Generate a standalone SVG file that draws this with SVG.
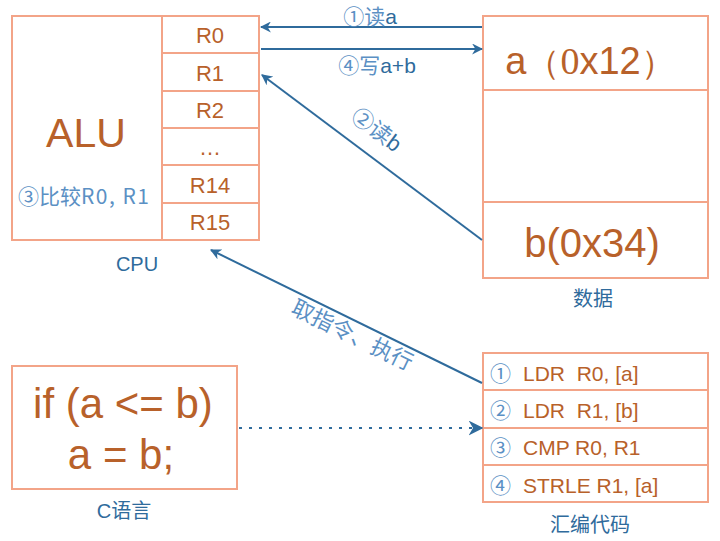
<svg xmlns="http://www.w3.org/2000/svg" width="720" height="541" viewBox="0 0 720 541">
<style>
.box{fill:none;stroke:#f3a488;stroke-width:2}
.br{fill:#b8612a;font-family:"Liberation Sans","Noto Sans CJK SC",sans-serif}
.bl{fill:#2f6b9c;font-family:"Liberation Sans","Noto Sans CJK SC",sans-serif}
.lb{fill:#5b90c4;font-family:"Noto Sans CJK SC","Liberation Serif",serif}
.ln{stroke:#2f6b9c;stroke-width:2;fill:none}
</style>
<defs>
<marker id="ah" viewBox="0 0 10 10" refX="9" refY="5" markerWidth="11" markerHeight="11" markerUnits="userSpaceOnUse" orient="auto">
<path d="M0,0 L10,5 L0,10 L3,5 Z" fill="#2f6b9c"/>
</marker>
<marker id="ah2" viewBox="0 0 10 10" refX="9" refY="5" markerWidth="15" markerHeight="15" markerUnits="userSpaceOnUse" orient="auto">
<path d="M0,0 L10,5 L0,10 L3,5 Z" fill="#2f6b9c"/>
</marker>
</defs>
<rect width="720" height="541" fill="#fff"/>
<g id="cpu">
<rect class="box" x="12" y="16" width="247" height="224"/>
<line class="box" x1="162" y1="16" x2="162" y2="240"/>
<line class="box" x1="162" y1="53" x2="259" y2="53"/>
<line class="box" x1="162" y1="91" x2="259" y2="91"/>
<line class="box" x1="162" y1="128" x2="259" y2="128"/>
<line class="box" x1="162" y1="165" x2="259" y2="165"/>
<line class="box" x1="162" y1="203" x2="259" y2="203"/>
<text class="br" x="86" y="147" font-size="41" text-anchor="middle">ALU</text>
<text class="lb" x="18" y="204" font-size="21">③比较<tspan letter-spacing="1.5">R0, R1</tspan></text>
<g font-size="22" text-anchor="middle">
<text class="br" x="210" y="43">R0</text>
<text class="br" x="210" y="81">R1</text>
<text class="br" x="210" y="118">R2</text>
<text class="br" x="210" y="155">…</text>
<text class="br" x="210" y="193">R14</text>
<text class="br" x="210" y="230">R15</text>
</g>
<text class="bl" x="137" y="271" font-size="20" text-anchor="middle">CPU</text>
</g>
<g id="data">
<rect class="box" x="483" y="16" width="225" height="262"/>
<line class="box" x1="483" y1="90" x2="708" y2="90"/>
<line class="box" x1="483" y1="202" x2="708" y2="202"/>
<text class="br" x="590" y="74" font-size="38" text-anchor="middle">a<tspan font-family="Liberation Serif,serif" font-size="34">（</tspan><tspan font-family="Liberation Serif,serif">0</tspan>x12<tspan font-family="Liberation Serif,serif" font-size="34">）</tspan></text>
<text class="br" x="592" y="257" font-size="40" text-anchor="middle">b(0x34)</text>
<text class="bl" x="593" y="306" font-size="20" text-anchor="middle">数据</text>
</g>
<g id="asm">
<rect class="box" x="483" y="353" width="225" height="149"/>
<line class="box" x1="483" y1="390" x2="708" y2="390"/>
<line class="box" x1="483" y1="428" x2="708" y2="428"/>
<line class="box" x1="483" y1="465" x2="708" y2="465"/>
<g font-size="21">
<text class="lb" x="490" y="381">①</text>
<text class="br" x="523" y="381" xml:space="preserve">LDR  R0, [a]</text>
<text class="lb" x="490" y="418">②</text>
<text class="br" x="523" y="418" xml:space="preserve">LDR  R1, [b]</text>
<text class="lb" x="490" y="455">③</text>
<text class="br" x="523" y="455">CMP R0, R1</text>
<text class="lb" x="490" y="493">④</text>
<text class="br" x="523" y="493">STRLE R1, [a]</text>
</g>
<text class="bl" x="590" y="532" font-size="20" text-anchor="middle">汇编代码</text>
</g>
<g id="clang">
<rect class="box" x="12" y="366" width="225" height="123"/>
<text class="br" x="123" y="418" font-size="42" text-anchor="middle">if (a &lt;= b)</text>
<text class="br" x="121" y="469" font-size="42" text-anchor="middle">a = b;</text>
<text class="bl" x="124" y="518" font-size="20" text-anchor="middle">C语言</text>
</g>
<g id="connectors">
<line class="ln" x1="482" y1="27" x2="261" y2="27" marker-end="url(#ah)"/>
<line class="ln" x1="261" y1="49" x2="482" y2="49" marker-end="url(#ah)"/>
<line class="ln" x1="482" y1="240" x2="262" y2="75" marker-end="url(#ah)"/>
<line class="ln" x1="482" y1="383" x2="211" y2="250" marker-end="url(#ah)"/>
<line class="ln" x1="239" y1="428" x2="482" y2="428" stroke-dasharray="3 7" marker-end="url(#ah2)"/>
<text class="lb" x="370" y="24" font-size="21" text-anchor="middle">①读<tspan class="bl">a</tspan></text>
<text class="lb" x="377" y="73" font-size="21" text-anchor="middle">④写<tspan class="bl">a+b</tspan></text>
<text class="lb" x="0" y="0" font-size="22" text-anchor="middle" transform="translate(372,136) rotate(36.7)">②读<tspan class="bl">b</tspan></text>
<text class="lb" x="0" y="0" font-size="22" text-anchor="middle" transform="translate(349,342) rotate(26)">取指令、执行</text>
</g>
</svg>
